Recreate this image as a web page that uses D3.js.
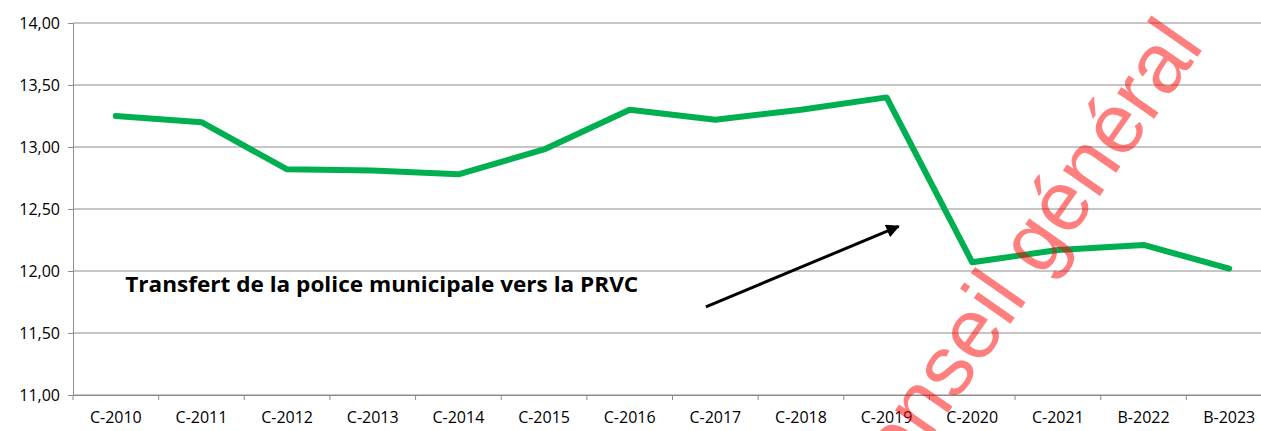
<!DOCTYPE html>
<html>
<head>
<meta charset="utf-8">
<script src="https://cdn.jsdelivr.net/npm/d3@7"></script>
<style>
    body { margin: 0; background: #fff; }
    .axis text { font-family: "Open Sans", sans-serif; font-size: 16px; fill: #000; }
</style>
</head>
<body>
<div class="linechart"></div>
<script>
// categories and values
const categories = ["C-2010", "C-2011", "C-2012", "C-2013", "C-2014", "C-2015", "C-2016",
    "C-2017", "C-2018", "C-2019", "C-2020", "C-2021", "B-2022", "B-2023"];
const values = [13.25, 13.20, 12.82, 12.81, 12.78, 12.98, 13.30,
    13.22, 13.30, 13.40, 12.07, 12.17, 12.21, 12.02];
const yTicks = [11, 11.5, 12, 12.5, 13, 13.5, 14];

// annotation, in category index / value units
const noteText = "Transfert de la police municipale vers la PRVC";
const notePos = [0.61, 11.83];
const arrowFrom = [7.39, 11.71];
const arrowTo = [9.64, 12.36];

const watermark = "Conseil général";

LineChart(".linechart");

function LineChart(container) {

    const margin = ({top: 23, right: -11, bottom: 36, left: 73})
    const width = 1261 - margin.left - margin.right,
        height = 431 - margin.top - margin.bottom;

    const svg = d3.select(container)
        .append("svg")
        .attr("width", 1261)
        .attr("height", 431)
        .append("g")
        .attr("transform", "translate(" + margin.left + "," + margin.top + ")");

    // scales
    const xScale = d3.scaleBand()
        .domain(categories)
        .range([0, width]);

    // index scale for placing things between categories
    const xIndex = d3.scaleLinear()
        .domain([0, categories.length])
        .range([0, width]);

    const yScale = d3.scaleLinear()
        .domain([11, 14])
        .range([height, 0]);

    const fr = d3.formatLocale({decimal: ",", thousands: " ", grouping: [3], currency: ["", "€"]});

    // gridlines
    svg.append("g")
        .selectAll("line")
        .data(yTicks)
        .join("line")
        .attr("x1", 0)
        .attr("x2", width)
        .attr("y1", d => yScale(d))
        .attr("y2", d => yScale(d))
        .attr("stroke", "#8c8c8c")
        .attr("stroke-width", 1);

    // y axis
    const yAxis = d3.axisLeft(yScale)
        .tickValues(yTicks)
        .tickSize(5)
        .tickPadding(8)
        .tickFormat(fr.format(".2f"));

    const yAxisGroup = svg.append("g")
        .attr("class", "axis y-axis")
        .call(yAxis);
    yAxisGroup.select(".domain").attr("stroke", "#8c8c8c");
    yAxisGroup.selectAll(".tick line").attr("stroke", "#8c8c8c");

    // x axis: labels centred, ticks on band edges
    const xAxis = d3.axisBottom(xScale)
        .tickSize(0)
        .tickPadding(17);

    const xAxisGroup = svg.append("g")
        .attr("class", "axis x-axis")
        .attr("transform", "translate(0," + height + ")")
        .call(xAxis);
    xAxisGroup.select(".domain").attr("stroke", "#8c8c8c");

    xAxisGroup.selectAll(".edge")
        .data(d3.range(categories.length + 1))
        .join("line")
        .attr("class", "edge")
        .attr("x1", d => xIndex(d))
        .attr("x2", d => xIndex(d))
        .attr("y1", 0)
        .attr("y2", 5)
        .attr("stroke", "#8c8c8c");

    // the line
    const line = d3.line()
        .x((d, i) => xScale(categories[i]) + xScale.bandwidth() / 2)
        .y(d => yScale(d));

    svg.append("path")
        .datum(values)
        .attr("fill", "none")
        .attr("stroke", "#00b050")
        .attr("stroke-width", 6)
        .attr("stroke-linecap", "round")
        .attr("stroke-linejoin", "round")
        .attr("d", line);

    // annotation
    svg.append("text")
        .attr("x", xIndex(notePos[0]))
        .attr("y", yScale(notePos[1]))
        .attr("font-family", "'Open Sans', sans-serif")
        .attr("font-weight", "bold")
        .attr("font-size", 21)
        .attr("textLength", 513)
        .attr("lengthAdjust", "spacingAndGlyphs")
        .text(noteText);

    svg.append("defs").append("marker")
        .attr("id", "head")
        .attr("viewBox", "0 0 10 10")
        .attr("refX", 9)
        .attr("refY", 5)
        .attr("markerWidth", 4.5)
        .attr("markerHeight", 4.5)
        .attr("orient", "auto")
        .append("path")
        .attr("d", "M0,0L10,5L0,10Z")
        .attr("fill", "#000");

    svg.append("line")
        .attr("x1", xIndex(arrowFrom[0]))
        .attr("y1", yScale(arrowFrom[1]))
        .attr("x2", xIndex(arrowTo[0]))
        .attr("y2", yScale(arrowTo[1]))
        .attr("stroke", "#000")
        .attr("stroke-width", 3)
        .attr("marker-end", "url(#head)");

    // watermark
    d3.select(container).select("svg")
        .append("text")
        .attr("transform", "translate(1205,46) rotate(-55)")
        .attr("text-anchor", "end")
        .attr("font-family", "'Liberation Sans', Arial, sans-serif")
        .attr("font-size", 85)
        .attr("fill", "#ff0000")
        .attr("fill-opacity", 0.5)
        .text(watermark);
}
</script>
</body>
</html>
